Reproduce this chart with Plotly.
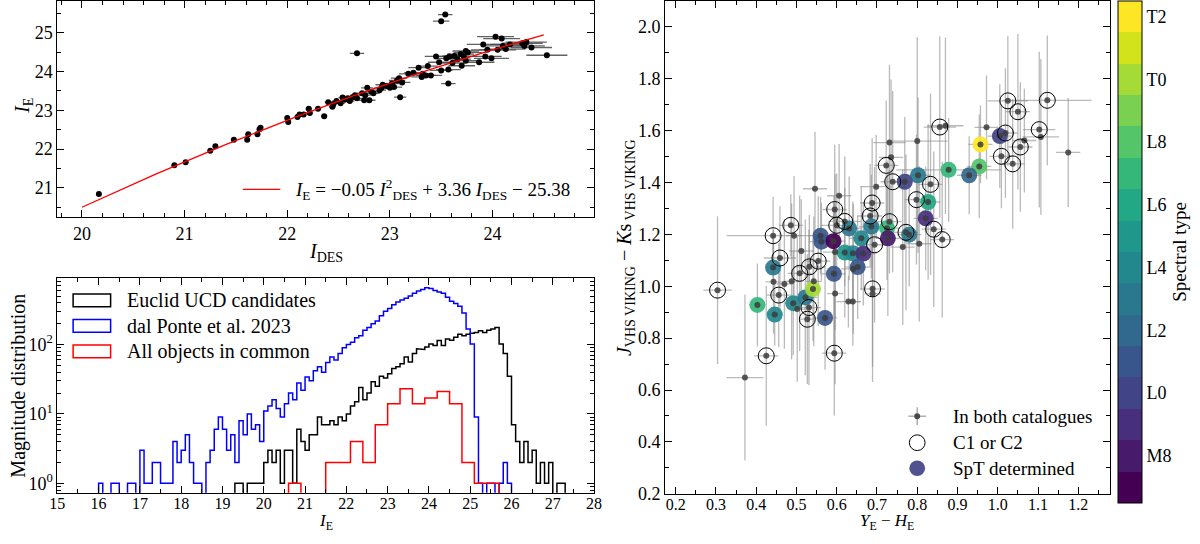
import numpy as np
import plotly.graph_objects as go

W, H = 1200, 544
FONT = "Liberation Serif"

# ---------------- top-left: I_E vs I_DES ----------------
ides = [20.165, 20.90, 21.01, 21.25, 21.30, 21.48, 21.61, 21.62, 21.71, 21.73, 21.74,
        22.00, 22.01, 22.10, 22.12, 22.16, 22.21, 22.22, 22.30, 22.36,
        22.40, 22.44, 22.45, 22.48, 22.52, 22.54, 22.56, 22.59, 22.61, 22.64, 22.66,
        22.68,
        22.68, 22.73, 22.75, 22.76, 22.78, 22.80, 22.82, 22.84, 22.90, 22.92, 22.93, 22.97,
        23.00, 23.02, 23.04, 23.07, 23.09, 23.10, 23.12,
        23.18, 23.23, 23.28, 23.31, 23.32, 23.35, 23.37, 23.40, 23.45, 23.48,
        23.50, 23.50, 23.54, 23.55, 23.57, 23.57, 23.58, 23.61, 23.63, 23.66, 23.69, 23.70, 23.72, 23.74, 23.74, 23.76,
        23.87, 23.91, 23.93, 23.95, 23.99, 24.03, 24.05, 24.09, 24.10, 24.13, 24.17,
        24.29, 24.31, 24.33, 24.38, 24.53]
ie = [20.84, 21.58, 21.66, 21.96, 22.07, 22.24, 22.24, 22.38, 22.38, 22.51, 22.55,
      22.80, 22.70, 22.83, 22.89, 22.89, 23.04, 22.93, 23.04, 22.85,
      23.21, 23.09, 23.16, 23.24, 23.18, 23.33, 23.27, 23.31, 23.24, 23.34, 23.39,
      24.47,
      23.31, 23.44, 23.26, 23.39, 23.58, 23.26, 23.48, 23.44, 23.52, 23.58, 23.66, 23.63,
      23.58, 23.69, 23.60, 23.77, 23.83, 23.34, 23.72,
      23.94, 23.97, 24.10, 23.86, 23.94, 23.90, 24.14, 23.90, 24.39, 24.24,
      25.30, 24.03, 25.47, 24.34, 24.05, 23.69, 24.39, 24.22, 24.40, 24.32, 24.45, 24.15, 24.39, 24.53, 24.28, 24.49,
      24.24, 24.70, 24.39, 24.56, 24.34, 24.90, 24.56, 24.85, 24.66, 24.58, 24.70,
      24.73, 24.66, 24.76, 24.62, 24.42]
ides_err = [0.01, 0.015, 0.015, 0.015, 0.015, 0.02, 0.02, 0.02, 0.02, 0.02, 0.02,
            0.02, 0.02, 0.025, 0.025, 0.025, 0.03, 0.03, 0.03, 0.03,
            0.035, 0.035, 0.035, 0.04, 0.04, 0.04, 0.04, 0.045, 0.045, 0.045, 0.05,
            0.07,
            0.05, 0.05, 0.05, 0.055, 0.06, 0.06, 0.06, 0.06, 0.065, 0.07, 0.07, 0.07,
            0.07, 0.08, 0.08, 0.08, 0.08, 0.06, 0.08,
            0.09, 0.09, 0.1, 0.1, 0.1, 0.1, 0.1, 0.11, 0.11, 0.11,
            0.08, 0.11, 0.07, 0.12, 0.12, 0.07, 0.12, 0.12, 0.12, 0.13, 0.13, 0.13, 0.13, 0.13, 0.14, 0.14,
            0.15, 0.16, 0.16, 0.16, 0.17, 0.18, 0.18, 0.18, 0.18, 0.19, 0.19,
            0.2, 0.2, 0.2, 0.2, 0.2]
ie_err = [0.01, 0.01, 0.01, 0.01, 0.01, 0.01, 0.01, 0.01, 0.01, 0.01, 0.01,
          0.015, 0.015, 0.015, 0.015, 0.015, 0.015, 0.015, 0.015, 0.015,
          0.02, 0.02, 0.02, 0.02, 0.02, 0.02, 0.02, 0.02, 0.02, 0.02, 0.02,
          0.02,
          0.02, 0.02, 0.02, 0.02, 0.025, 0.025, 0.025, 0.025, 0.025, 0.025, 0.025, 0.025,
          0.03, 0.03, 0.03, 0.03, 0.03, 0.03, 0.03,
          0.03, 0.03, 0.03, 0.03, 0.03, 0.03, 0.03, 0.03, 0.04, 0.04,
          0.04, 0.04, 0.05, 0.04, 0.04, 0.03, 0.04, 0.04, 0.04, 0.04, 0.04, 0.04, 0.04, 0.08, 0.04, 0.05,
          0.04, 0.05, 0.05, 0.05, 0.05, 0.06, 0.05, 0.06, 0.05, 0.05, 0.06,
          0.08, 0.06, 0.06, 0.06, 0.06]
fit_coeffs = [-0.0533, 3.36, -25.38]
fit_range = [20.0, 24.5]
fit_label = "<i>I</i><sub>E</sub> = −0.05 <i>I</i><sup>2</sup><sub>DES</sub> + 3.36 <i>I</i><sub>DES</sub> − 25.38"

# ---------------- bottom-left: histograms ----------------
euclid_start, euclid_width = 19.3, 0.1
euclid_counts = [1, 1, 0, 1, 1, 1, 1,
                 2, 3, 2, 3, 1, 3, 3, 1, 6, 4,
                 3, 5, 5, 9, 7, 7, 8, 7, 9, 8,
                 10, 13, 15, 24, 16, 20, 29, 25, 35, 33,
                 38, 45, 48, 53, 66, 56, 74, 87, 85, 92,
                 102, 97, 114, 97, 120, 115, 127, 141, 134, 141,
                 145, 149, 158, 149, 160, 167, 176, 102, 74, 35,
                 7, 4, 2, 4, 2, 3, 1, 2, 1, 2,
                 0, 1, 1]
dalponte_start, dalponte_width = 16.0, 0.1
dalponte_counts = [1, 0, 0, 1, 1, 0, 0, 1, 1, 0,
                   3, 1, 1, 2, 2, 1, 1, 1, 4, 2,
                   3, 5, 2, 1, 1, 0, 2, 3, 6, 9,
                   6, 3, 5, 2, 8, 5, 10, 6, 7, 4,
                   11, 13, 16, 12, 9, 14, 20, 16, 28, 22,
                   34, 30, 42, 48, 40, 55, 66, 60, 74, 90,
                   100, 108, 125, 134, 160, 176, 200, 219, 260, 302,
                   330, 376, 410, 440, 466, 500, 550, 590, 620, 660,
                   640, 600, 570, 550, 480, 420, 390, 355, 285, 167,
                   102, 9, 1, 0, 1, 1, 0, 1, 2, 1]
common_start, common_width = 20.6, 0.3
common_counts = [1, 0, 0, 2, 2, 4, 2, 7, 14, 23, 14, 17, 21, 14, 2, 1, 1]
hist_labels = ["Euclid UCD candidates", "dal Ponte et al. 2023", "All objects in common"]
hist_colors = ["black", "#0000ff", "#ff0000"]

# ---------------- right: colour-colour ----------------
yh = [0.304, 0.372, 0.403, 0.425, 0.442, 0.443, 0.442, 0.446, 0.456, 0.459,
      0.47, 0.486, 0.488, 0.492, 0.494, 0.502, 0.508, 0.512, 0.522, 0.527,
      0.531, 0.532, 0.541, 0.543, 0.546, 0.554, 0.56, 0.562, 0.571, 0.592,
      0.593, 0.594, 0.595, 0.596, 0.596, 0.6, 0.606, 0.62, 0.62, 0.629,
      0.631, 0.64, 0.641, 0.64, 0.652, 0.661, 0.666, 0.683, 0.686, 0.688,
      0.689, 0.689, 0.694, 0.698, 0.723, 0.725, 0.727, 0.731, 0.731, 0.735,
      0.739, 0.764, 0.769, 0.772, 0.78, 0.798, 0.8, 0.802, 0.805, 0.821,
      0.827, 0.833, 0.841, 0.856, 0.862, 0.87, 0.878, 0.929, 0.954, 0.957,
      0.972, 1.005, 1.009, 1.019, 1.025, 1.037, 1.05, 1.056, 1.066, 1.103,
      1.107, 1.123, 1.175]
jk = [0.985, 0.648, 0.928, 0.732, 1.195, 1.017, 1.072, 0.891, 0.966, 1.109,
      1.009, 1.235, 1.019, 0.935, 1.195, 0.912, 1.05, 1.136, 0.957, 0.873,
      0.918, 1.075, 0.989, 1.019, 1.376, 1.097, 1.195, 1.172, 0.878, 1.174,
      1.048, 0.742, 1.296, 0.972, 1.132, 1.235, 1.349, 1.25, 1.13, 0.941,
      1.223, 0.941, 1.067, 1.127, 1.074, 1.185, 1.126, 1.271, 1.23, 1.321,
      0.99, 0.971, 1.16, 1.384, 1.466, 1.224, 1.185, 1.249, 1.554, 1.497,
      1.403, 1.151, 1.403, 1.208, 1.199, 1.334, 1.56, 1.428, 1.164, 1.262,
      1.325, 1.393, 1.22, 1.614, 1.18, 1.619, 1.449, 1.428, 1.462, 1.547,
      1.613, 1.579, 1.501, 1.591, 1.715, 1.472, 1.673, 1.537, 1.562, 1.604,
      1.576, 1.717, 1.516]
yh_err = [0.035, 0.046, 0.02, 0.03, 0.115, 0.02, 0.02, 0.02, 0.03, 0.04,
          0.02, 0.03, 0.02, 0.02, 0.02, 0.02, 0.03, 0.03, 0.03, 0.02,
          0.03, 0.04, 0.02, 0.02, 0.03, 0.03, 0.03, 0.03, 0.03, 0.03,
          0.03, 0.03, 0.03, 0.02, 0.03, 0.04, 0.03, 0.04, 0.03, 0.03,
          0.03, 0.02, 0.03, 0.03, 0.03, 0.03, 0.03, 0.03, 0.03, 0.03,
          0.03, 0.02, 0.03, 0.04, 0.03, 0.03, 0.03, 0.03, 0.04, 0.03,
          0.03, 0.03, 0.03, 0.03, 0.03, 0.03, 0.075, 0.03, 0.03, 0.03,
          0.03, 0.03, 0.03, 0.04, 0.03, 0.045, 0.13, 0.03, 0.03, 0.03,
          0.03, 0.03, 0.03, 0.03, 0.05, 0.03, 0.03, 0.03, 0.03, 0.04,
          0.045, 0.11, 0.03]
jk_err = [0.285, 0.32, 0.16, 0.27, 0.15, 0.2, 0.12, 0.12, 0.2, 0.2,
          0.25, 0.12, 0.3, 0.2, 0.23, 0.28, 0.3, 0.2, 0.3, 0.25,
          0.3, 0.2, 0.2, 0.25, 0.22, 0.25, 0.15, 0.15, 0.2, 0.15,
          0.3, 0.24, 0.25, 0.35, 0.3, 0.2, 0.2, 0.25, 0.25, 0.1,
          0.2, 0.17, 0.25, 0.2, 0.2, 0.2, 0.2, 0.2, 0.2, 0.25,
          0.3, 0.34, 0.3, 0.2, 0.25, 0.2, 0.3, 0.2, 0.3, 0.3,
          0.35, 0.3, 0.25, 0.3, 0.2, 0.25, 0.4, 0.3, 0.3, 0.2,
          0.3, 0.35, 0.3, 0.35, 0.3, 0.34, 0.2, 0.15, 0.2, 0.15,
          0.2, 0.2, 0.2, 0.25, 0.25, 0.25, 0.3, 0.25, 0.2, 0.3,
          0.3, 0.25, 0.21]
c12_x = [0.304, 0.425, 0.442, 0.456, 0.459, 0.486, 0.508, 0.527, 0.531, 0.532,
         0.554, 0.594, 0.595, 0.6, 0.62, 0.683, 0.688, 0.689, 0.694, 0.723,
         0.731, 0.739, 0.772, 0.798, 0.833, 0.841, 0.856, 0.862, 1.009, 1.019,
         1.025, 1.037, 1.05, 1.056, 1.103, 1.123]
c12_y = [0.985, 0.732, 1.195, 0.966, 1.109, 1.235, 1.05, 0.873, 0.918, 1.075,
         1.097, 0.742, 1.296, 1.235, 1.25, 1.271, 1.321, 0.99, 1.16, 1.466,
         1.249, 1.403, 1.208, 1.334, 1.393, 1.22, 1.614, 1.18, 1.501, 1.591,
         1.715, 1.472, 1.673, 1.537, 1.604, 1.717]
spt_x = [0.403, 0.446, 0.442, 0.492, 0.522, 0.541, 0.571, 0.593, 0.56, 0.562,
         0.592, 0.631, 0.62, 0.64, 0.666, 0.652, 0.661, 0.686, 1.005, 0.957,
         0.954, 0.878, 0.929, 0.802, 0.769, 0.827, 0.821, 0.78, 0.725, 0.727]
spt_y = [0.928, 0.891, 1.072, 0.935, 0.957, 0.989, 0.878, 1.048, 1.195, 1.172,
         1.174, 1.223, 1.13, 1.127, 1.126, 1.074, 1.185, 1.23, 1.579, 1.547,
         1.462, 1.449, 1.428, 1.428, 1.403, 1.325, 1.262, 1.199, 1.224, 1.185]
spt_type = ["L7", "L4", "L3", "L4", "L3", "T0", "L1", "L1", "L1", "L1",
            "M7", "L3", "L5", "L4", "M9", "L1", "L4", "L3", "L0", "T2",
            "L8", "L7", "L2", "L3", "L0", "L6", "M9", "L3", "L7", "M8"]
spt_classes = ["M7", "M8", "M9", "L0", "L1", "L2", "L3", "L4", "L5", "L6",
               "L7", "L8", "L9", "T0", "T1", "T2"]
spt_ticks = ["M8", "L0", "L2", "L4", "L6", "L8", "T0", "T2"]
viridis16 = ["#440154", "#481a6c", "#472f7d", "#414487", "#39568c", "#31688e",
             "#2a788e", "#23888e", "#1f988b", "#22a884", "#35b779", "#54c568",
             "#7ad151", "#a5db36", "#d2e21b", "#fde725"]
right_legend = ["In both catalogues", "C1 or C2", "SpT determined"]


def px(x):
    return x / W


def py(y):
    return 1 - y / H


def step_path(start, width, counts, floor=1e-2):
    n = len(counts)
    edges = np.round(start + width * np.arange(n + 1), 4)
    xs, ys = [edges[0]], [floor]
    for i, c in enumerate(counts):
        v = c if c > 0 else floor
        xs += [edges[i], edges[i + 1]]
        ys += [v, v]
    xs.append(edges[-1])
    ys.append(floor)
    return xs, ys


fig = go.Figure()

# top-left points
fig.add_trace(go.Scatter(
    x=ides, y=ie, mode="markers", xaxis="x", yaxis="y",
    marker=dict(color="black", size=6),
    error_x=dict(type="data", array=ides_err, color="rgba(70,70,70,0.85)", thickness=1.3, width=0),
    error_y=dict(type="data", array=ie_err, color="rgba(70,70,70,0.85)", thickness=1.3, width=0),
    showlegend=False))
fx = np.linspace(fit_range[0], fit_range[1], 120)
fy = np.polyval(fit_coeffs, fx)
fig.add_trace(go.Scatter(x=fx, y=fy, mode="lines", xaxis="x", yaxis="y",
                         line=dict(color="#ff0000", width=1.3), showlegend=False))

# histograms
for (start, width, counts, col) in [
        (euclid_start, euclid_width, euclid_counts, hist_colors[0]),
        (dalponte_start, dalponte_width, dalponte_counts, hist_colors[1]),
        (common_start, common_width, common_counts, hist_colors[2])]:
    hx, hy = step_path(start, width, counts)
    fig.add_trace(go.Scatter(x=hx, y=hy, mode="lines", xaxis="x2", yaxis="y2",
                             line=dict(color=col, width=1.5), showlegend=False))

# right: error bars
fig.add_trace(go.Scatter(
    x=yh, y=jk, mode="markers", xaxis="x3", yaxis="y3",
    marker=dict(size=1, color="rgba(0,0,0,0)"),
    error_x=dict(type="data", array=yh_err, color="rgba(140,140,140,0.6)", thickness=1.3, width=0),
    error_y=dict(type="data", array=jk_err, color="rgba(140,140,140,0.6)", thickness=1.3, width=0),
    showlegend=False, hoverinfo="skip"))

# SpT determined
spt_val = [spt_classes.index(s) for s in spt_type]
nC = len(spt_classes)
cscale = []
for i, c in enumerate(viridis16):
    cscale.append([i / nC, c])
    cscale.append([(i + 1) / nC, c])
fig.add_trace(go.Scatter(
    x=spt_x, y=spt_y, mode="markers", xaxis="x3", yaxis="y3",
    marker=dict(size=16, color=spt_val, colorscale=cscale, cmin=-0.5, cmax=nC - 0.5,
                opacity=0.92, line=dict(width=0),
                colorbar=dict(
                    x=px(1125), xanchor="left", xpad=0,
                    y=py(1), yanchor="top", ypad=0,
                    lenmode="pixels", len=502, thickness=24,
                    outlinewidth=1, outlinecolor="black",
                    tickmode="array",
                    tickvals=[spt_classes.index(t) for t in spt_ticks],
                    ticktext=spt_ticks, ticks="",
                    tickfont=dict(family=FONT, size=18, color="black"),
                    title=dict(text="Spectral type", side="right",
                               font=dict(family=FONT, size=19, color="black")))),
    showlegend=False))

# gray dots
fig.add_trace(go.Scatter(
    x=yh, y=jk, mode="markers", xaxis="x3", yaxis="y3",
    marker=dict(size=6, color="rgba(60,60,60,0.85)"), showlegend=False))

# C1 or C2
fig.add_trace(go.Scatter(
    x=c12_x, y=c12_y, mode="markers", xaxis="x3", yaxis="y3",
    marker=dict(size=16, symbol="circle-open", color="black", line=dict(width=1)),
    showlegend=False))

tickfont = dict(family=FONT, size=18, color="black")
tickfont_b = dict(family=FONT, size=16, color="black")


def ax(domain, anchor, **kw):
    d = dict(domain=domain, anchor=anchor, showline=True, linecolor="black", linewidth=1,
             mirror="allticks", ticks="inside", ticklen=7, tickwidth=1, tickcolor="black",
             showgrid=False, zeroline=False, tickfont=tickfont)
    d.update(kw)
    return d


minor_small = dict(ticks="inside", ticklen=4, tickwidth=1, tickcolor="black", showgrid=False)

log_minor = [m * 10 ** e for e in range(-1, 3) for m in range(2, 10)]

xd_left = [px(50), px(594)]
fig.update_layout(
    width=W, height=H, margin=dict(l=0, r=0, t=0, b=0),
    paper_bgcolor="white", plot_bgcolor="white", showlegend=False,
    xaxis=ax(xd_left, "y", range=[19.76, 24.99], tick0=20, dtick=1,
             minor=dict(dtick=0.2, **minor_small)),
    yaxis=ax([py(221), py(1)], "x", range=[20.25, 25.82], tick0=21, dtick=1,
             minor=dict(dtick=0.5, **minor_small)),
    xaxis2=ax(xd_left, "y2", range=[15, 28], tick0=15, dtick=1, tickfont=tickfont_b,
              ticklabelstandoff=-4, minor=dict(dtick=0.5, **minor_small)),
    yaxis2=ax([py(502), py(283)], "x2", type="log",
              range=[np.log10(0.73), np.log10(916)],
              tickmode="array", tickvals=[1, 10, 100],
              ticktext=["10<sup>0</sup>", "10<sup>1</sup>", "10<sup>2</sup>"],
              minor=dict(tickmode="array", tickvals=log_minor, **minor_small)),
    xaxis3=ax([px(666), px(1117)], "y3", range=[0.1738, 1.279], tick0=0.2, dtick=0.1,
              tickformat=".1f", tickfont=tickfont_b, ticklabelstandoff=-4,
              minor=dict(dtick=0.05, **minor_small)),
    yaxis3=ax([py(503), py(1)], "x3", range=[0.2, 2.1], tick0=0.2, dtick=0.2,
              tickformat=".1f", minor=dict(dtick=0.1, **minor_small)),
)

title_font = dict(family=FONT, size=20, color="black")
bottom_font = dict(family=FONT, size=17, color="black")
annotations = [
    dict(text="<i>I</i><sub>DES</sub>", x=px(322), y=py(257), yanchor="middle"),
    dict(text="<i>I</i><sub>E</sub>", x=px(15), y=py(108), textangle=-90, yanchor="middle"),
    dict(text="Magnitude distribution", x=px(11), y=py(393), textangle=-90, yanchor="middle"),
    dict(text="<i>I</i><sub>E</sub>", x=px(322), y=0, font=bottom_font, yanchor="bottom",
         borderpad=0),
    dict(text="<i>J</i><sub>VHS VIKING</sub> − <i>K</i>s<sub> VHS VIKING</sub>",
         x=px(626), y=py(252), textangle=-90, yanchor="middle"),
    dict(text="<i>Y</i><sub>E</sub> − <i>H</i><sub>E</sub>", x=px(891), y=0,
         font=bottom_font, yanchor="bottom", borderpad=0),
]
for a in annotations:
    a.setdefault("font", title_font)
    a.update(xref="paper", yref="paper", showarrow=False, xanchor="center")

shapes = []
# top-left legend
shapes.append(dict(type="line", xref="paper", yref="paper", x0=px(238), x1=px(276),
                   y0=py(193), y1=py(193), line=dict(color="#ff0000", width=1.3)))
annotations.append(dict(text=fit_label, x=px(289), y=py(193), xref="paper", yref="paper",
                        showarrow=False, font=dict(family=FONT, size=19, color="black"),
                        xanchor="left", yanchor="middle"))
# histogram legend
for i, (lab, col) in enumerate(zip(hist_labels, hist_colors)):
    yc = 306 + 26 * i
    shapes.append(dict(type="rect", xref="paper", yref="paper", x0=px(66), x1=px(104),
                       y0=py(yc + 6.5), y1=py(yc - 6.5), line=dict(color=col, width=1.5),
                       fillcolor="rgba(0,0,0,0)"))
    annotations.append(dict(text=lab, x=px(119), y=py(yc), xref="paper", yref="paper",
                            showarrow=False, font=dict(family=FONT, size=20, color="black"),
                            xanchor="left", yanchor="middle"))
# right legend
lx = 921.5
ly = [424, 451, 477]
shapes.append(dict(type="line", xref="paper", yref="paper", x0=px(lx - 9), x1=px(lx + 9),
                   y0=py(ly[0]), y1=py(ly[0]), line=dict(color="rgba(140,140,140,0.8)", width=1.3)))
shapes.append(dict(type="line", xref="paper", yref="paper", x0=px(lx), x1=px(lx),
                   y0=py(ly[0] - 9), y1=py(ly[0] + 9), line=dict(color="rgba(140,140,140,0.8)", width=1.3)))
shapes.append(dict(type="circle", xref="paper", yref="paper", x0=px(lx - 3), x1=px(lx + 3),
                   y0=py(ly[0] - 3), y1=py(ly[0] + 3), fillcolor="rgba(60,60,60,0.9)",
                   line=dict(width=0)))
shapes.append(dict(type="circle", xref="paper", yref="paper", x0=px(lx - 8), x1=px(lx + 8),
                   y0=py(ly[1] - 8), y1=py(ly[1] + 8), fillcolor="rgba(0,0,0,0)",
                   line=dict(color="black", width=1)))
shapes.append(dict(type="circle", xref="paper", yref="paper", x0=px(lx - 8), x1=px(lx + 8),
                   y0=py(ly[2] - 8), y1=py(ly[2] + 8), fillcolor="#414487", opacity=0.92,
                   line=dict(width=0)))
for lab, yy in zip(right_legend, ly):
    annotations.append(dict(text=lab, x=px(956), y=py(yy), xref="paper", yref="paper",
                            showarrow=False, font=dict(family=FONT, size=19, color="black"),
                            xanchor="left", yanchor="middle"))

fig.update_layout(annotations=annotations, shapes=shapes)
fig.write_html("out.html")
